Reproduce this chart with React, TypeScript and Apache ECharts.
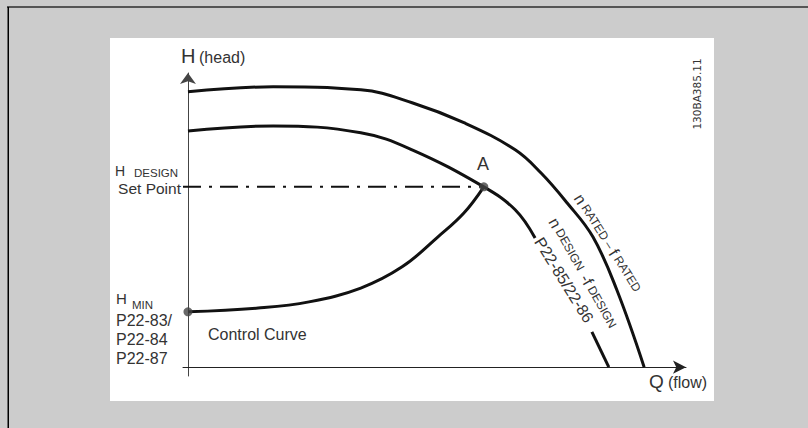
import React, { useEffect, useRef } from "react";
import * as echarts from "echarts";

// Pump curves (Q = flow, H = head) in relative units
const ratedQ = [0, 17.1, 34.7, 45.0, 55.4, 65.7, 70.9, 76.1, 81.3, 86.1, 91.6];
const ratedH = [93.6, 95.3, 94.3, 89.9, 83.1, 73.9, 66.0, 55.9, 44.3, 26.3, 0];

const designQ = [0, 17.1, 34.7, 45.0, 59.4, 65.7, 69.7];
const designH = [80.3, 82.0, 79.7, 73.9, 61.3, 53.5, 43.9];

const designTailQ = [81.1, 84.5];
const designTailH = [12.0, 0];

const controlQ = [0, 14.1, 24.3, 34.7, 43.0, 50.2, 55.4, 59.4];
const controlH = [18.8, 20.1, 22.2, 26.9, 34.1, 44.3, 52.4, 61.3];

const setPointQ = [-1, 59.4];
const setPointH = [61.3, 61.3];

const pointQ = [0, 59.4];
const pointH = [18.8, 61.3];

const leftLabels = ["P22-83/", "P22-84", "P22-87"];

const pts = (q: number[], h: number[]) => q.map((v, i) => [v, h[i]]);

const FONT = '"Liberation Sans", Arial, sans-serif';
const TXT = "#333333";

function txt(text: string, x: number, y: number, size: number, align = "left", extra: any = {}) {
  return {
    type: "text",
    x,
    y,
    z: 100,
    silent: true,
    ...extra,
    style: {
      text,
      font: `${size}px ${FONT}`,
      fill: TXT,
      align,
      textAlign: align,
      verticalAlign: "middle",
      textVerticalAlign: "middle",
      lineHeight: Math.round(size * 0.8),
      ...(extra.style || {}),
    },
  };
}

function richTxt(text: string, x: number, y: number, rotation: number) {
  return {
    type: "text",
    x,
    y,
    rotation,
    z: 100,
    silent: true,
    style: {
      text,
      fill: TXT,
      align: "center",
      textAlign: "center",
      verticalAlign: "middle",
      textVerticalAlign: "middle",
      rich: {
        n: { font: `16px ${FONT}`, fill: TXT },
        s: { font: `12px ${FONT}`, fill: TXT },
      },
    },
  };
}

const curveLine = (data: number[][], smooth: number) => ({
  type: "line",
  data,
  smooth,
  symbol: "none",
  silent: true,
  z: 3,
  lineStyle: { color: "#111111", width: 3 },
});

export default function App() {
  const ref = useRef<HTMLDivElement>(null);
  useEffect(() => {
    const chart = echarts.init(ref.current!, null, { renderer: "svg" });
    const option: any = {
      animation: false,
      backgroundColor: "#cccccc",
      grid: { left: 183, right: 122, top: 73, bottom: 52 },
      xAxis: {
        type: "value",
        min: -1,
        max: 100,
        axisLine: {
          show: true,
          onZero: true,
          symbol: ["none", "arrow"],
          symbolSize: [10, 13],
          lineStyle: { color: "#222222", width: 1 },
        },
        axisTick: { show: false },
        axisLabel: { show: false },
        splitLine: { show: false },
      },
      yAxis: {
        type: "value",
        min: -3,
        max: 100,
        axisLine: {
          show: true,
          onZero: true,
          symbol: ["none", "arrow"],
          symbolSize: [12, 11],
          lineStyle: { color: "#444444", width: 1 },
        },
        axisTick: { show: false },
        axisLabel: { show: false },
        splitLine: { show: false },
      },
      series: [
        curveLine(pts(ratedQ, ratedH), 0.4),
        curveLine(pts(designQ, designH), 0.4),
        curveLine(pts(designTailQ, designTailH), 0),
        curveLine(pts(controlQ, controlH), 0.4),
        {
          type: "line",
          data: pts(setPointQ, setPointH),
          symbol: "none",
          silent: true,
          z: 2,
          lineStyle: { color: "#111111", width: 2, type: [18, 8, 3, 8] },
        },
        {
          type: "scatter",
          data: pts(pointQ, pointH),
          symbol: "circle",
          symbolSize: 9,
          silent: true,
          z: 5,
          itemStyle: { color: "#444444" },
        },
      ],
      graphic: [
        { type: "rect", z: 0, silent: true, shape: { x: 110, y: 38, width: 604, height: 363 }, style: { fill: "#ffffff" } },
        { type: "rect", z: 0, silent: true, shape: { x: 7, y: 6, width: 801, height: 2 }, style: { fill: "#555555" } },
        { type: "rect", z: 0, silent: true, shape: { x: 7.5, y: 7, width: 1.5, height: 421 }, style: { fill: "#000000" } },
        txt("H", 181, 56, 20),
        txt("(head)", 199, 57.5, 16),
        txt("H", 115, 171, 14),
        txt("DESIGN", 134, 173, 11.5),
        txt("Set Point", 181, 188, 15.5, "right"),
        txt("H", 116, 298.7, 15),
        txt("MIN", 132, 305, 11.5),
        ...leftLabels.map((l, i) => txt(l, 116, 320 + i * 19, 16)),
        txt("Control Curve", 208, 334, 16),
        txt("A", 483, 163.5, 18, "center"),
        txt("Q", 649, 381, 19),
        txt("(flow)", 668, 382, 16),
        {
          type: "text",
          x: 697,
          y: 94,
          rotation: Math.PI / 2,
          z: 100,
          silent: true,
          style: {
            text: "130BA385.11",
            font: '10.5px "DejaVu Sans", sans-serif',
            fill: TXT,
            align: "center",
            textAlign: "center",
            verticalAlign: "middle",
            textVerticalAlign: "middle",
          },
        },
        richTxt("{n|n}{s| RATED – }{n|f}{s| RATED}", 608, 243, -1.009),
        richTxt("{n|n}{s| DESIGN  }{n|-f}{s| DESIGN}", 583, 273, -1.06),
        txt("P22-85/22-86", 564, 280, 16, "center", { rotation: -1.016 }),
      ],
    };
    chart.setOption(option);
    return () => chart.dispose();
  }, []);
  return (
    <div
      ref={ref}
      style={{ position: "fixed", left: 0, top: 0, width: 808, height: 428 }}
    />
  );
}
